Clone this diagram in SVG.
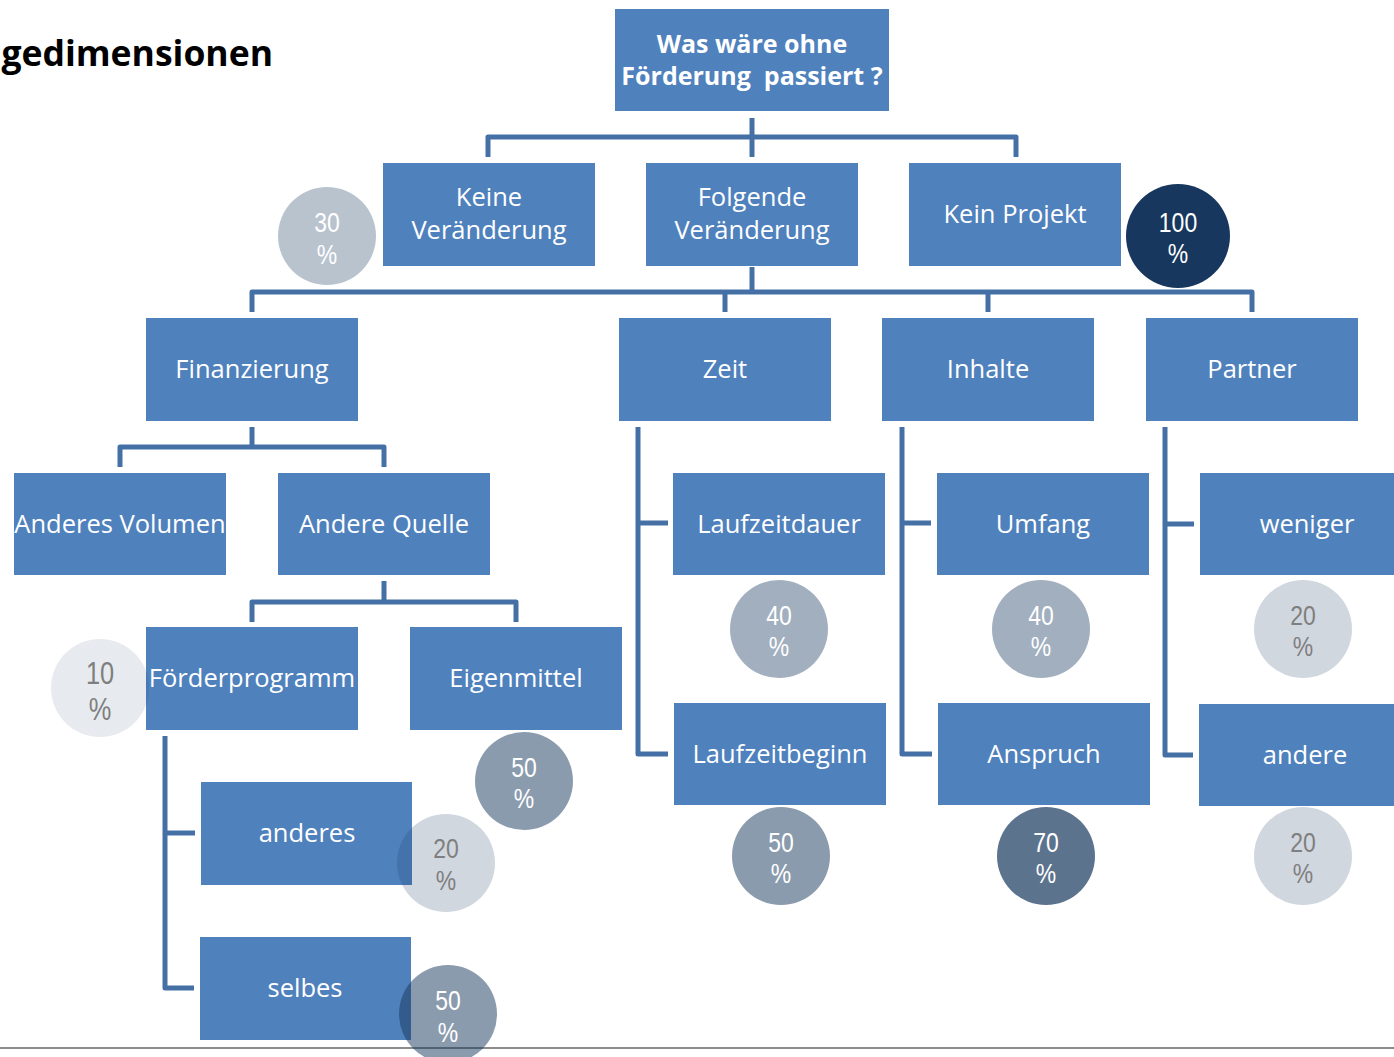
<svg xmlns="http://www.w3.org/2000/svg" width="1394" height="1057" viewBox="0 0 1394 1057">
<style>
.box{fill:#4F81BD}
.bt{font-family:"Open Sans","Noto Sans",sans-serif;font-size:25.5px;fill:#FFFFFF;text-anchor:middle}
.bb{font-weight:bold;font-size:25px}
.conn{fill:none;stroke:#4570A6;stroke-width:5;stroke-linejoin:round}
.circ{fill:#17375E}
.ct{font-family:"Liberation Sans",Arial,sans-serif;font-size:28px;text-anchor:middle}
.w{fill:#FFFFFF}
.g{fill:#7F7F7F}
</style>
<rect width="1394" height="1057" fill="#FFFFFF"/>
<text x="273" y="66" font-family="Open Sans,Noto Sans,sans-serif" font-weight="bold" font-size="35.5" text-anchor="end" fill="#000000">gedimensionen</text>
<line x1="0" y1="1048" x2="1394" y2="1048" stroke="#8C8C8C" stroke-width="2"/>

<g id="connectors">
  <path class="conn" d="M752 118V157M488 157V137H1016V157"/>
  <path class="conn" d="M752 267V292M252 312V292H1252V312M725 292V312M988 292V312"/>
  <path class="conn" d="M252 427V447M120 467V447H384V467"/>
  <path class="conn" d="M384 581V602M252 622V602H516V622"/>
  <path class="conn" d="M165 736V988H194M165 833H195"/>
  <path class="conn" d="M638 427V754H668M638 523H668"/>
  <path class="conn" d="M902 427V754H932M902 523H931"/>
  <path class="conn" d="M1165 427V755H1193M1165 524H1194"/>
</g>

<g id="n-root"><rect class="box" x="615" y="9" width="274" height="102"/><text class="bt bb" x="752" y="53">Was wäre ohne</text><text class="bt bb" x="752" y="85" xml:space="preserve">Förderung  passiert ?</text></g>
<g id="n-keine"><rect class="box" x="383" y="163" width="212" height="103"/><text class="bt" x="489" y="206">Keine</text><text class="bt" x="489" y="239">Veränderung</text></g>
<g id="n-folgende"><rect class="box" x="646" y="163" width="212" height="103"/><text class="bt" x="752" y="206">Folgende</text><text class="bt" x="752" y="239">Veränderung</text></g>
<g id="n-keinprojekt"><rect class="box" x="909" y="163" width="212" height="103"/><text class="bt" x="1015" y="223">Kein Projekt</text></g>

<g id="n-finanzierung"><rect class="box" x="146" y="318" width="212" height="103"/><text class="bt" x="252" y="378">Finanzierung</text></g>
<g id="n-zeit"><rect class="box" x="619" y="318" width="212" height="103"/><text class="bt" x="725" y="378">Zeit</text></g>
<g id="n-inhalte"><rect class="box" x="882" y="318" width="212" height="103"/><text class="bt" x="988" y="378">Inhalte</text></g>
<g id="n-partner"><rect class="box" x="1146" y="318" width="212" height="103"/><text class="bt" x="1252" y="378">Partner</text></g>

<g id="n-volumen"><rect class="box" x="14" y="473" width="212" height="102"/><text class="bt" x="120" y="533">Anderes Volumen</text></g>
<g id="n-quelle"><rect class="box" x="278" y="473" width="212" height="102"/><text class="bt" x="384" y="533">Andere Quelle</text></g>
<g id="n-foerderprogramm"><rect class="box" x="146" y="627" width="212" height="103"/><text class="bt" x="252" y="687">Förderprogramm</text></g>
<g id="n-eigenmittel"><rect class="box" x="410" y="627" width="212" height="103"/><text class="bt" x="516" y="687">Eigenmittel</text></g>
<g id="n-anderes"><rect class="box" x="201" y="782" width="211" height="103"/><text class="bt" x="307" y="842">anderes</text></g>
<g id="n-selbes"><rect class="box" x="200" y="937" width="211" height="103"/><text class="bt" x="305" y="997">selbes</text></g>

<g id="n-laufzeitdauer"><rect class="box" x="673" y="473" width="212" height="102"/><text class="bt" x="779" y="533">Laufzeitdauer</text></g>
<g id="n-laufzeitbeginn"><rect class="box" x="674" y="703" width="212" height="102"/><text class="bt" x="780" y="763">Laufzeitbeginn</text></g>
<g id="n-umfang"><rect class="box" x="937" y="473" width="212" height="102"/><text class="bt" x="1043" y="533">Umfang</text></g>
<g id="n-anspruch"><rect class="box" x="938" y="703" width="212" height="102"/><text class="bt" x="1044" y="763">Anspruch</text></g>
<g id="n-weniger"><rect class="box" x="1200" y="473" width="212" height="102"/><text class="bt" x="1307" y="533">weniger</text></g>
<g id="n-andere"><rect class="box" x="1199" y="704" width="212" height="102"/><text class="bt" x="1305" y="764">andere</text></g>

<g id="c-30"><circle class="circ" cx="327" cy="236" r="49" fill-opacity="0.3"/><text class="ct w" transform="translate(327 0) scale(0.82 1)" y="232">30</text><text class="ct w" transform="translate(327 0) scale(0.82 1)" y="264">%</text></g>
<g id="c-100"><circle class="circ" cx="1178" cy="236" r="52"/><text class="ct w" transform="translate(1178 0) scale(0.82 1)" y="232">100</text><text class="ct w" transform="translate(1178 0) scale(0.82 1)" y="263">%</text></g>
<g id="c-10"><circle class="circ" cx="100" cy="688" r="49" fill-opacity="0.1"/><text class="ct g" style="font-size:31px" transform="translate(100 0) scale(0.82 1)" y="684">10</text><text class="ct g" style="font-size:31px" transform="translate(100 0) scale(0.82 1)" y="720">%</text></g>
<g id="c-eigen50"><circle class="circ" cx="524" cy="781" r="49" fill-opacity="0.5"/><text class="ct w" transform="translate(524 0) scale(0.82 1)" y="777">50</text><text class="ct w" transform="translate(524 0) scale(0.82 1)" y="808">%</text></g>
<g id="c-anderes20"><circle class="circ" cx="446" cy="863" r="49" fill-opacity="0.2"/><text class="ct g" transform="translate(446 0) scale(0.82 1)" y="858">20</text><text class="ct g" transform="translate(446 0) scale(0.82 1)" y="890">%</text></g>
<g id="c-selbes50"><circle class="circ" cx="448" cy="1014" r="49" fill-opacity="0.5"/><text class="ct w" transform="translate(448 0) scale(0.82 1)" y="1010">50</text><text class="ct w" transform="translate(448 0) scale(0.82 1)" y="1042">%</text></g>
<g id="c-dauer40"><circle class="circ" cx="779" cy="629" r="49" fill-opacity="0.4"/><text class="ct w" transform="translate(779 0) scale(0.82 1)" y="625">40</text><text class="ct w" transform="translate(779 0) scale(0.82 1)" y="656">%</text></g>
<g id="c-beginn50"><circle class="circ" cx="781" cy="856" r="49" fill-opacity="0.5"/><text class="ct w" transform="translate(781 0) scale(0.82 1)" y="852">50</text><text class="ct w" transform="translate(781 0) scale(0.82 1)" y="883">%</text></g>
<g id="c-umfang40"><circle class="circ" cx="1041" cy="629" r="49" fill-opacity="0.4"/><text class="ct w" transform="translate(1041 0) scale(0.82 1)" y="625">40</text><text class="ct w" transform="translate(1041 0) scale(0.82 1)" y="656">%</text></g>
<g id="c-anspruch70"><circle class="circ" cx="1046" cy="856" r="49" fill-opacity="0.7"/><text class="ct w" transform="translate(1046 0) scale(0.82 1)" y="852">70</text><text class="ct w" transform="translate(1046 0) scale(0.82 1)" y="883">%</text></g>
<g id="c-weniger20"><circle class="circ" cx="1303" cy="629" r="49" fill-opacity="0.2"/><text class="ct g" transform="translate(1303 0) scale(0.82 1)" y="625">20</text><text class="ct g" transform="translate(1303 0) scale(0.82 1)" y="656">%</text></g>
<g id="c-andere20"><circle class="circ" cx="1303" cy="856" r="49" fill-opacity="0.2"/><text class="ct g" transform="translate(1303 0) scale(0.82 1)" y="852">20</text><text class="ct g" transform="translate(1303 0) scale(0.82 1)" y="883">%</text></g>
</svg>
